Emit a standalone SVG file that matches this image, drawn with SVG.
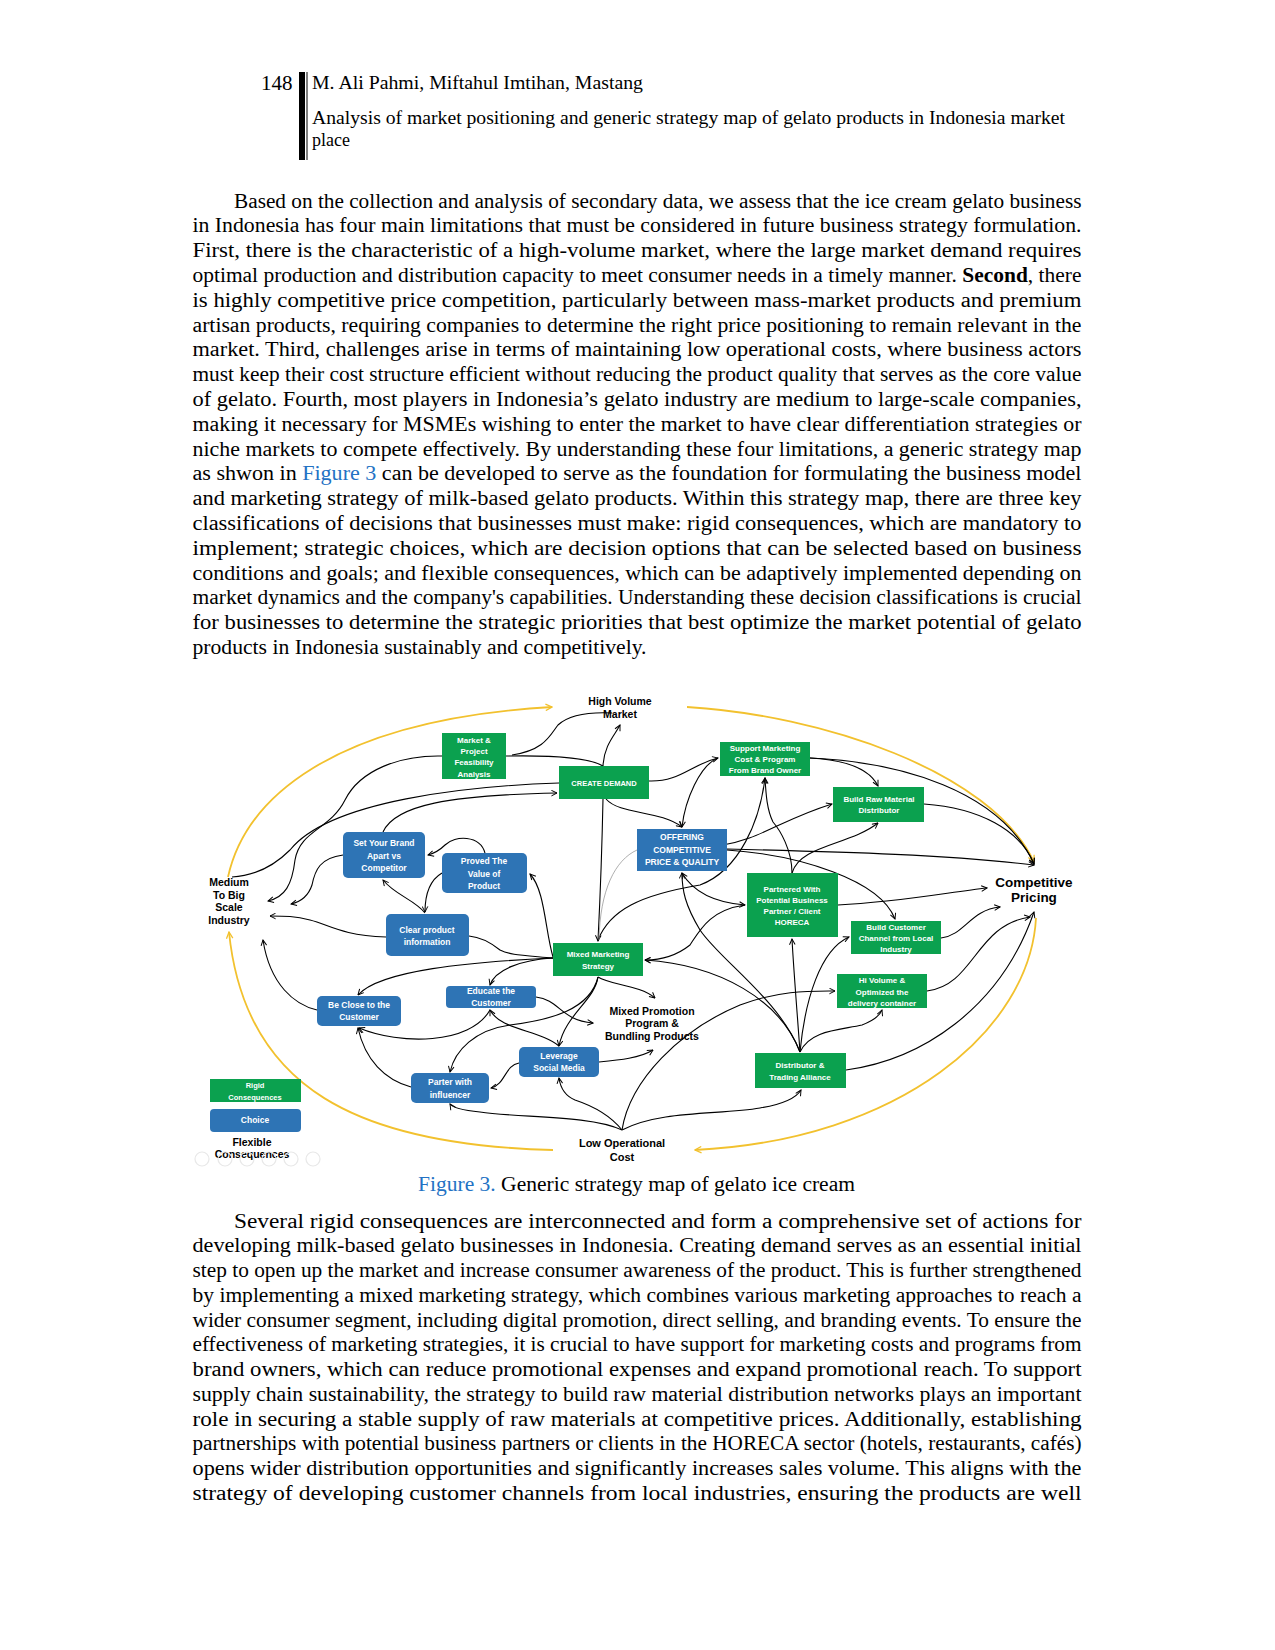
<svg xmlns="http://www.w3.org/2000/svg" width="1275" height="1650" viewBox="0 0 1275 1650">
<defs>
<style>
.b{font-family:"Liberation Serif","Times New Roman",serif;font-size:20px;fill:#000}
.h{font-family:"Liberation Serif","Times New Roman",serif;font-size:18px;fill:#000}
.lk{fill:#2372c4}
.g{fill:#0ba14f}
.bl{fill:#2e74b5}
.t{font-family:"Liberation Sans",Arial,sans-serif;font-weight:bold;fill:#fff;text-anchor:middle;font-size:8px}
.t85{font-size:8.5px}
.t75{font-size:7.5px}
.lab{font-family:"Liberation Sans",Arial,sans-serif;font-weight:bold;fill:#000;text-anchor:middle;font-size:10.5px}
.l13{font-size:13.5px}
.l11{font-size:11px}
.c{fill:none;stroke:#000;stroke-width:1.1}
.y{fill:none;stroke:#f2c12e;stroke-width:1.8}
</style>
<marker id="ah" viewBox="0 0 10 10" refX="9" refY="5" markerWidth="7" markerHeight="7" markerUnits="userSpaceOnUse" orient="auto-start-reverse"><path d="M1,1 L9,5 L1,9" fill="none" stroke="#000" stroke-width="1.4"/></marker>
<marker id="ay" viewBox="0 0 10 10" refX="9" refY="5" markerWidth="8" markerHeight="8" markerUnits="userSpaceOnUse" orient="auto-start-reverse"><path d="M1,1 L9,5 L1,9" fill="none" stroke="#f2c12e" stroke-width="1.6"/></marker>
</defs>
<rect width="1275" height="1650" fill="#fff"/>

<g id="header">
<text x="261" y="90" font-family="Liberation Serif,serif" font-size="21">148</text>
<rect x="299" y="72" width="6" height="88" fill="#000"/>
<rect x="306.5" y="72" width="1" height="88" fill="#000"/>
<text class="h" x="312" y="89" textLength="331" lengthAdjust="spacingAndGlyphs">M. Ali Pahmi, Miftahul Imtihan, Mastang</text>
<text class="h" x="312" y="124" textLength="753" lengthAdjust="spacingAndGlyphs">Analysis of market positioning and generic strategy map of gelato products in Indonesia market</text>
<text class="h" x="312" y="146">place</text>
</g>

<g id="para1">
<text class="b" x="234" y="207.5" textLength="847.5" lengthAdjust="spacingAndGlyphs">Based on the collection and analysis of secondary data, we assess that the ice cream gelato business</text>
<text class="b" x="192.5" y="232.3" textLength="889" lengthAdjust="spacingAndGlyphs">in Indonesia has four main limitations that must be considered in future business strategy formulation.</text>
<text class="b" x="192.5" y="257.1" textLength="889" lengthAdjust="spacingAndGlyphs">First, there is the characteristic of a high-volume market, where the large market demand requires</text>
<text class="b" x="192.5" y="281.9" textLength="889" lengthAdjust="spacingAndGlyphs">optimal production and distribution capacity to meet consumer needs in a timely manner. <tspan font-weight="bold">Second</tspan>, there</text>
<text class="b" x="192.5" y="306.7" textLength="889" lengthAdjust="spacingAndGlyphs">is highly competitive price competition, particularly between mass-market products and premium</text>
<text class="b" x="192.5" y="331.5" textLength="889" lengthAdjust="spacingAndGlyphs">artisan products, requiring companies to determine the right price positioning to remain relevant in the</text>
<text class="b" x="192.5" y="356.3" textLength="889" lengthAdjust="spacingAndGlyphs">market. Third, challenges arise in terms of maintaining low operational costs, where business actors</text>
<text class="b" x="192.5" y="381.1" textLength="889" lengthAdjust="spacingAndGlyphs">must keep their cost structure efficient without reducing the product quality that serves as the core value</text>
<text class="b" x="192.5" y="405.9" textLength="889" lengthAdjust="spacingAndGlyphs">of gelato. Fourth, most players in Indonesia’s gelato industry are medium to large-scale companies,</text>
<text class="b" x="192.5" y="430.7" textLength="889" lengthAdjust="spacingAndGlyphs">making it necessary for MSMEs wishing to enter the market to have clear differentiation strategies or</text>
<text class="b" x="192.5" y="455.5" textLength="889" lengthAdjust="spacingAndGlyphs">niche markets to compete effectively. By understanding these four limitations, a generic strategy map</text>
<text class="b" x="192.5" y="480.3" textLength="889" lengthAdjust="spacingAndGlyphs">as shwon in <tspan class="lk">Figure 3</tspan> can be developed to serve as the foundation for formulating the business model</text>
<text class="b" x="192.5" y="505.1" textLength="889" lengthAdjust="spacingAndGlyphs">and marketing strategy of milk-based gelato products. Within this strategy map, there are three key</text>
<text class="b" x="192.5" y="529.9" textLength="889" lengthAdjust="spacingAndGlyphs">classifications of decisions that businesses must make: rigid consequences, which are mandatory to</text>
<text class="b" x="192.5" y="554.7" textLength="889" lengthAdjust="spacingAndGlyphs">implement; strategic choices, which are decision options that can be selected based on business</text>
<text class="b" x="192.5" y="579.5" textLength="889" lengthAdjust="spacingAndGlyphs">conditions and goals; and flexible consequences, which can be adaptively implemented depending on</text>
<text class="b" x="192.5" y="604.3" textLength="889" lengthAdjust="spacingAndGlyphs">market dynamics and the company's capabilities. Understanding these decision classifications is crucial</text>
<text class="b" x="192.5" y="629.1" textLength="889" lengthAdjust="spacingAndGlyphs">for businesses to determine the strategic priorities that best optimize the market potential of gelato</text>
<text class="b" x="192.5" y="653.9" textLength="454" lengthAdjust="spacingAndGlyphs">products in Indonesia sustainably and competitively.</text>
</g>

<g id="connectors">
<path class="y" d="M228,877 C245,800 330,720 552,707" marker-end="url(#ay)"/>
<path class="y" d="M687,707 C820,715 990,770 1034,862" marker-end="url(#ay)"/>
<path class="y" d="M1036,918 C1030,1030 900,1140 695,1150" marker-end="url(#ay)"/>
<path class="y" d="M553,1150 C360,1145 245,1090 229,932" marker-end="url(#ay)"/>

<path class="c" d="M442,756 C400,755 360,770 345,800 C330,830 300,830 295,860 C292,885 285,897 268,901" marker-end="url(#ah)"/>
<path class="c" d="M343,855 C320,858 315,870 312,885 C308,897 300,902 291,904" marker-end="url(#ah)"/>
<path class="c" d="M559,783 C470,786 330,800 290,850 C270,870 250,876 232,877"/>
<path class="c" d="M383,832 C395,805 450,795 557,793" marker-end="url(#ah)"/>
<path class="c" d="M506,756 C560,755 590,758 603,766"/>
<path class="c" d="M512,755 C545,750 550,735 558,725 C570,714 590,712 612,713"/>
<path class="c" d="M603,766 C604,745 615,735 620,725" marker-end="url(#ah)"/>
<path class="c" d="M603,799 C602,850 600,900 598,941" marker-end="url(#ah)"/>
<path class="c" d="M606,799 C620,815 660,810 682,827" marker-end="url(#ah)"/>
<path class="c" d="M649,781 C680,782 690,765 718,758" marker-end="url(#ah)"/>
<path class="c" d="M718,758 C700,765 685,800 682,827" marker-end="url(#ah)"/>
<path class="c" d="M810,758 C850,760 870,770 878,786" marker-end="url(#ah)"/>
<path class="c" d="M810,758 C900,762 1000,790 1034,864" marker-end="url(#ah)"/>
<path class="c" d="M598,940 C610,910 640,895 700,885 C740,870 760,820 765,778" marker-end="url(#ah)"/>
<path class="c" d="M792,873 C792,850 780,830 773,822 C767,810 766,795 765,778" marker-end="url(#ah)"/>
<path class="c" d="M718,846 C760,840 780,820 832,804" marker-end="url(#ah)"/>
<path class="c" d="M727,849 C850,852 950,855 1034,865" marker-end="url(#ah)"/>
<path class="c" d="M727,850 C800,855 880,880 895,919" marker-end="url(#ah)"/>
<path class="c" d="M792,873 C800,845 850,845 878,823" marker-end="url(#ah)"/>
<path class="c" d="M924,804 C980,808 1020,830 1034,864" marker-end="url(#ah)"/>
<path class="c" d="M838,905 C900,902 950,892 987,888" marker-end="url(#ah)"/>
<path class="c" d="M941,938 C965,935 970,910 1000,907" marker-end="url(#ah)"/>
<path class="c" d="M927,991 C975,985 975,925 1030,917" marker-end="url(#ah)"/>
<path class="c" d="M846,1070 C920,1060 1000,1010 1034,912" marker-end="url(#ah)"/>
<path class="c" d="M800,1052 C780,1000 720,960 700,930 C685,905 682,890 682,873" marker-end="url(#ah)"/>
<path class="c" d="M682,873 C695,895 720,903 745,905" marker-start="url(#ah)" marker-end="url(#ah)"/>
<path class="c" d="M745,905 C710,910 700,930 690,945 C675,957 660,960 645,960" marker-end="url(#ah)"/>
<path class="c" d="M800,1052 C780,1000 720,965 645,960" marker-end="url(#ah)"/>
<path class="c" d="M800,1052 C797,1010 794,975 792,939" marker-end="url(#ah)"/>
<path class="c" d="M800,1052 C805,1000 820,950 849,937" marker-end="url(#ah)"/>
<path class="c" d="M800,1052 C810,1030 840,1030 862,1025 C875,1020 880,1015 882,1010" marker-end="url(#ah)"/>
<path class="c" d="M622,1130 C660,1110 720,1115 760,1108 C790,1103 798,1095 801,1090" marker-end="url(#ah)"/>
<path class="c" d="M622,1130 C630,1080 680,1030 740,1005 C780,990 810,991 835,991" marker-end="url(#ah)"/>
<path class="c" d="M622,1130 C610,1115 590,1105 575,1100 C563,1095 560,1085 559,1078" marker-end="url(#ah)"/>
<path class="c" d="M622,1130 C590,1115 520,1118 480,1112 C460,1110 452,1107 450,1104" marker-end="url(#ah)"/>
<path class="c" d="M599,1062 C620,1060 640,1058 653,1050" marker-end="url(#ah)"/>
<path class="c" d="M598,977 C610,985 640,985 655,998" marker-end="url(#ah)"/>
<path class="c" d="M536,997 C560,1000 560,1020 593,1023" marker-end="url(#ah)"/>
<path class="c" d="M598,977 C595,1000 565,1015 559,1046" marker-end="url(#ah)"/>
<path class="c" d="M598,977 C590,1010 550,1020 510,1025 C475,1030 455,1050 450,1072" marker-end="url(#ah)"/>
<path class="c" d="M553,958 C520,960 495,970 490,985" marker-end="url(#ah)"/>
<path class="c" d="M553,958 C470,962 380,970 358,995" marker-end="url(#ah)"/>
<path class="c" d="M553,957 C545,930 545,890 530,874" marker-end="url(#ah)"/>
<path class="c" d="M553,958 C520,955 510,955 500,950 C490,942 480,937 469,936"/>
<path class="c" d="M386,937 C340,935 330,925 310,920 C295,916 285,916 270,916" marker-end="url(#ah)"/>
<path class="c" d="M485,853 C480,835 455,835 445,845 C440,850 435,853 428,855" marker-end="url(#ah)"/>
<path class="c" d="M442,873 C430,880 425,895 425,912" marker-end="url(#ah)"/>
<path class="c" d="M425,913 C415,900 395,895 383,880" marker-end="url(#ah)"/>
<path class="c" d="M317,1010 C295,1005 270,985 263,940" marker-end="url(#ah)"/>
<path class="c" d="M411,1087 C385,1080 365,1060 358,1028" marker-end="url(#ah)"/>
<path class="c" d="M490,1010 C470,1045 400,1045 359,1028" marker-end="url(#ah)"/>
<path class="c" d="M559,1046 C540,1030 500,1030 490,1010" marker-end="url(#ah)"/>
<path class="c" d="M519,1063 C505,1065 505,1085 491,1088" marker-end="url(#ah)"/>
<path d="M637,850 C615,860 600,890 599,940" fill="none" stroke="#999" stroke-width="0.8"/>
</g>

<g id="n-mpf"><rect class="g" x="442" y="733" width="64" height="46"/><text class="t"><tspan x="474" y="743">Market &amp;</tspan><tspan x="474" y="754">Project</tspan><tspan x="474" y="765">Feasibility</tspan><tspan x="474" y="777">Analysis</tspan></text></g>
<g id="n-cd"><rect class="g" x="559" y="766" width="90" height="33"/><text class="t t75" x="604" y="786">CREATE DEMAND</text></g>
<g id="n-sm"><rect class="g" x="720" y="742" width="90" height="34"/><text class="t"><tspan x="765" y="751">Support Marketing</tspan><tspan x="765" y="762">Cost &amp; Program</tspan><tspan x="765" y="773">From Brand Owner</tspan></text></g>
<g id="n-br"><rect class="g" x="833" y="787" width="91" height="35"/><text class="t"><tspan x="879" y="802">Build Raw Material</tspan><tspan x="879" y="813">Distributor</tspan></text></g>
<g id="n-of"><rect class="bl" x="637" y="829" width="90" height="42"/><text class="t t85"><tspan x="682" y="840">OFFERING</tspan><tspan x="682" y="853">COMPETITIVE</tspan><tspan x="682" y="865">PRICE &amp; QUALITY</tspan></text></g>
<g id="n-sb"><rect class="bl" x="343" y="832" width="82" height="46" rx="5"/><text class="t t85"><tspan x="384" y="846">Set Your Brand</tspan><tspan x="384" y="859">Apart vs</tspan><tspan x="384" y="871">Competitor</tspan></text></g>
<g id="n-pv"><rect class="bl" x="442" y="853" width="85" height="40" rx="5"/><text class="t t85"><tspan x="484" y="864">Proved The</tspan><tspan x="484" y="877">Value of</tspan><tspan x="484" y="889">Product</tspan></text></g>
<g id="n-cp"><rect class="bl" x="386" y="914" width="83" height="42" rx="5"/><text class="t t85"><tspan x="427" y="933">Clear product</tspan><tspan x="427" y="945">information</tspan></text></g>
<g id="n-pt"><rect class="g" x="747" y="873" width="91" height="64"/><text class="t"><tspan x="792" y="892">Partnered With</tspan><tspan x="792" y="903">Potential Business</tspan><tspan x="792" y="914">Partner / Client</tspan><tspan x="792" y="925">HORECA</tspan></text></g>
<g id="n-bc"><rect class="g" x="851" y="921" width="90" height="33"/><text class="t"><tspan x="896" y="930">Build Customer</tspan><tspan x="896" y="941">Channel from Local</tspan><tspan x="896" y="952">Industry</tspan></text></g>
<g id="n-mm"><rect class="g" x="553" y="943" width="90" height="33"/><text class="t"><tspan x="598" y="957">Mixed Marketing</tspan><tspan x="598" y="969">Strategy</tspan></text></g>
<g id="n-hv"><rect class="g" x="837" y="974" width="90" height="34"/><text class="t"><tspan x="882" y="983">Hi Volume &amp;</tspan><tspan x="882" y="995">Optimized the</tspan><tspan x="882" y="1006">delivery container</tspan></text></g>
<g id="n-ed"><rect class="bl" x="446" y="986" width="90" height="22" rx="4"/><text class="t t85"><tspan x="491" y="994">Educate the</tspan><tspan x="491" y="1006">Customer</tspan></text></g>
<g id="n-be"><rect class="bl" x="317" y="996" width="84" height="30" rx="5"/><text class="t t85"><tspan x="359" y="1008">Be Close to the</tspan><tspan x="359" y="1020">Customer</tspan></text></g>
<g id="n-lv"><rect class="bl" x="519" y="1047" width="80" height="30" rx="5"/><text class="t t85"><tspan x="559" y="1059">Leverage</tspan><tspan x="559" y="1071">Social Media</tspan></text></g>
<g id="n-pi"><rect class="bl" x="411" y="1073" width="78" height="30" rx="5"/><text class="t t85"><tspan x="450" y="1085">Parter with</tspan><tspan x="450" y="1098">influencer</tspan></text></g>
<g id="n-dt"><rect class="g" x="755" y="1053" width="91" height="35"/><text class="t"><tspan x="800" y="1068">Distributor &amp;</tspan><tspan x="800" y="1080">Trading Alliance</tspan></text></g>

<g id="n-hvm"><text class="lab"><tspan x="620" y="705">High Volume</tspan><tspan x="620" y="718">Market</tspan></text></g>
<g id="n-cpr"><text class="lab l13"><tspan x="1034" y="887">Competitive</tspan><tspan x="1034" y="902">Pricing</tspan></text></g>
<g id="n-mbi"><text class="lab"><tspan x="229" y="886">Medium</tspan><tspan x="229" y="899">To Big</tspan><tspan x="229" y="911">Scale</tspan><tspan x="229" y="924">Industry</tspan></text></g>
<g id="n-loc"><text class="lab l11"><tspan x="622" y="1147">Low Operational</tspan><tspan x="622" y="1161">Cost</tspan></text></g>
<g id="n-mpp"><text class="lab"><tspan x="652" y="1015">Mixed Promotion</tspan><tspan x="652" y="1027">Program &amp;</tspan><tspan x="652" y="1040">Bundling Products</tspan></text></g>

<g id="legend">
<rect class="g" x="210" y="1079" width="91" height="23"/><text class="t t75"><tspan x="255" y="1088">Rigid</tspan><tspan x="255" y="1100">Consequences</tspan></text>
<rect class="bl" x="210" y="1109" width="91" height="23" rx="4"/><text class="t t85" x="255" y="1123">Choice</text>
<text class="lab"><tspan x="252" y="1146">Flexible</tspan><tspan x="252" y="1158">Consequences</tspan></text>
<g fill="none" stroke="#e8e8e8" stroke-width="1.2"><circle cx="202" cy="1159" r="7"/><circle cx="225" cy="1159" r="7"/><circle cx="247" cy="1159" r="7"/><circle cx="269" cy="1159" r="7"/><circle cx="291" cy="1159" r="7"/><circle cx="313" cy="1159" r="7"/></g>
</g>

<g id="caption">
<text class="b" x="418" y="1191" textLength="437" lengthAdjust="spacingAndGlyphs"><tspan class="lk">Figure 3.</tspan> Generic strategy map of gelato ice cream</text>
</g>

<g id="para2">
<text class="b" x="234" y="1227.5" textLength="847.5" lengthAdjust="spacingAndGlyphs">Several rigid consequences are interconnected and form a comprehensive set of actions for</text>
<text class="b" x="192.5" y="1252.25" textLength="889" lengthAdjust="spacingAndGlyphs">developing milk-based gelato businesses in Indonesia. Creating demand serves as an essential initial</text>
<text class="b" x="192.5" y="1277" textLength="889" lengthAdjust="spacingAndGlyphs">step to open up the market and increase consumer awareness of the product. This is further strengthened</text>
<text class="b" x="192.5" y="1301.75" textLength="889" lengthAdjust="spacingAndGlyphs">by implementing a mixed marketing strategy, which combines various marketing approaches to reach a</text>
<text class="b" x="192.5" y="1326.5" textLength="889" lengthAdjust="spacingAndGlyphs">wider consumer segment, including digital promotion, direct selling, and branding events. To ensure the</text>
<text class="b" x="192.5" y="1351.25" textLength="889" lengthAdjust="spacingAndGlyphs">effectiveness of marketing strategies, it is crucial to have support for marketing costs and programs from</text>
<text class="b" x="192.5" y="1376" textLength="889" lengthAdjust="spacingAndGlyphs">brand owners, which can reduce promotional expenses and expand promotional reach. To support</text>
<text class="b" x="192.5" y="1400.75" textLength="889" lengthAdjust="spacingAndGlyphs">supply chain sustainability, the strategy to build raw material distribution networks plays an important</text>
<text class="b" x="192.5" y="1425.5" textLength="889" lengthAdjust="spacingAndGlyphs">role in securing a stable supply of raw materials at competitive prices. Additionally, establishing</text>
<text class="b" x="192.5" y="1450.25" textLength="889" lengthAdjust="spacingAndGlyphs">partnerships with potential business partners or clients in the HORECA sector (hotels, restaurants, cafés)</text>
<text class="b" x="192.5" y="1475" textLength="889" lengthAdjust="spacingAndGlyphs">opens wider distribution opportunities and significantly increases sales volume. This aligns with the</text>
<text class="b" x="192.5" y="1499.75" textLength="889" lengthAdjust="spacingAndGlyphs">strategy of developing customer channels from local industries, ensuring the products are well</text>
</g>
</svg>
